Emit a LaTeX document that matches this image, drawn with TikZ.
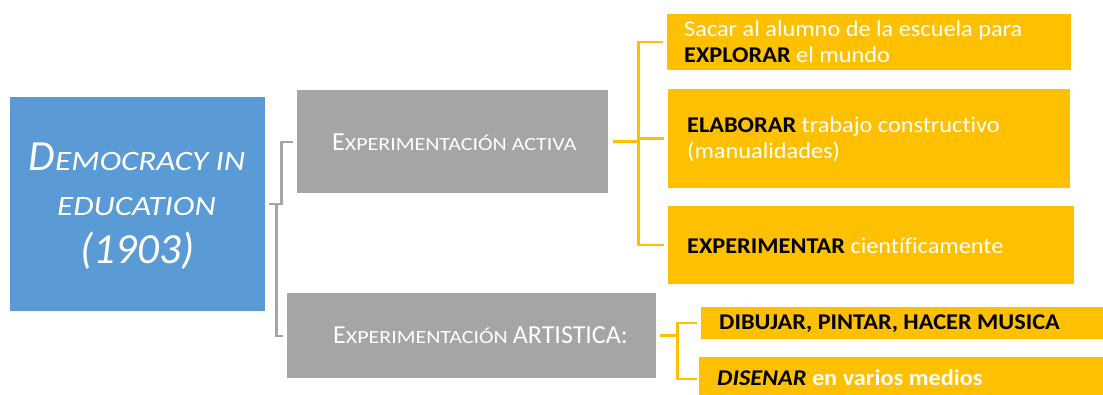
\documentclass[tikz,border=0pt]{standalone}
\usepackage{fontspec}
\setmainfont{Carlito}
\newfontfamily\scf[FakeStretch=1.18]{Carlito}
\newfontfamily\yf[FakeStretch=1.08,Ligatures=NoCommon]{Carlito}
\definecolor{blueb}{HTML}{5B9BD5}
\definecolor{grayb}{HTML}{A5A5A5}
\definecolor{yellowb}{HTML}{FFC000}
\begin{document}
\begin{tikzpicture}[x=1pt,y=-1pt,
  box/.style={draw=none, inner sep=0pt, anchor=north west},
  txt/.style={inner sep=0pt, anchor=base west, text=white},
  gline/.style={draw=grayb, line width=2.2pt},
  yline/.style={draw=yellowb, line width=2.5pt},
  ytext/.style={txt, font=\yf\fontsize{22.5}{26}\selectfont}]
\useasboundingbox (0,0) rectangle (1103,394);
\clip (0,0) rectangle (1103,394);
% boxes
\node[box, fill=blueb, minimum width=255pt, minimum height=214pt] (demo) at (10,97) {};
\node[box, fill=grayb, minimum width=311pt, minimum height=103pt] (g1) at (297,90) {};
\node[box, fill=grayb, minimum width=369pt, minimum height=85pt] (g2) at (287,293) {};
\node[box, fill=yellowb, minimum width=404pt, minimum height=56pt] (y1) at (667,14) {};
\node[box, fill=yellowb, minimum width=402pt, minimum height=99pt] (y2) at (668,89) {};
\node[box, fill=yellowb, minimum width=406pt, minimum height=78pt] (y3) at (668,206) {};
\node[box, fill=yellowb, minimum width=420pt, minimum height=32pt] (y4) at (701,307) {};
\node[box, fill=yellowb, minimum width=420pt, minimum height=44pt] (y5) at (699,357) {};
% texts
\node[inner sep=0pt, anchor=base, text=white] (d1) at (137,170) {\itshape\fontsize{43}{43}\selectfont D\scf\fontsize{28}{28}\selectfont EMOCRACY IN};
\node[inner sep=0pt, anchor=base, text=white] (d2) at (136.5,215) {\itshape\scf\fontsize{28}{28}\selectfont EDUCATION};
\node[inner sep=0pt, anchor=base, text=white] (d3) at (137.5,263) {\itshape\fontsize{43}{43}\selectfont (1903)};
\node[txt] (g1t) at (332,150) {\fontsize{26}{26}\selectfont E\scf\fontsize{18.6}{20}\selectfont XPERIMENTACIÓN ACTIVA};
\node[txt] (g2t) at (333,343) {\fontsize{26}{26}\selectfont E{\scf\fontsize{18.6}{20}\selectfont XPERIMENTACIÓN }ARTISTICA:};
\node[ytext] (y1a) at (684,36) {Sacar al alumno de la escuela para};
\node[ytext] (y1b) at (684,62) {\textcolor{black}{\bfseries EXPLORAR} el mundo};
\node[ytext] (y2a) at (687,132) {\textcolor{black}{\bfseries ELABORAR} trabajo constructivo};
\node[ytext] (y2b) at (687,158) {(manualidades)};
\node[ytext] (y3a) at (687,253) {\textcolor{black}{\bfseries EXPERIMENTAR} científicamente};
\node[ytext, text=black] (y4a) at (719,329) {\bfseries DIBUJAR, PINTAR, HACER MUSICA};
\node[ytext] (y5a) at (717,385) {\bfseries\textcolor{black}{\itshape DISENAR} en varios medios};
% gray connectors
\draw[gline] ([xshift=4pt]demo.east) -- ([xshift=16pt]demo.east) |- ([xshift=-4pt]g1.west);
\draw[gline] ([xshift=11pt]demo.east) |- ([xshift=-4pt]g2.west);
% yellow connectors
\coordinate (t1) at ([xshift=30pt]g1.east);
\draw[yline] ([xshift=5pt]g1.east) -- (t1);
\draw[yline] ([xshift=-4pt]y1.west) -| (t1) |- ([xshift=-4pt]y3.west);
\draw[yline] (t1 |- y2.west) -- ([xshift=-4pt]y2.west);
\coordinate (t2) at ([xshift=21pt]g2.east);
\draw[yline] ([xshift=4pt]g2.east) -- (t2);
\draw[yline] ([xshift=-4pt]y4.west) -| (t2) |- ([xshift=-2pt]y5.west |- 0,379);
\end{tikzpicture}
\end{document}
